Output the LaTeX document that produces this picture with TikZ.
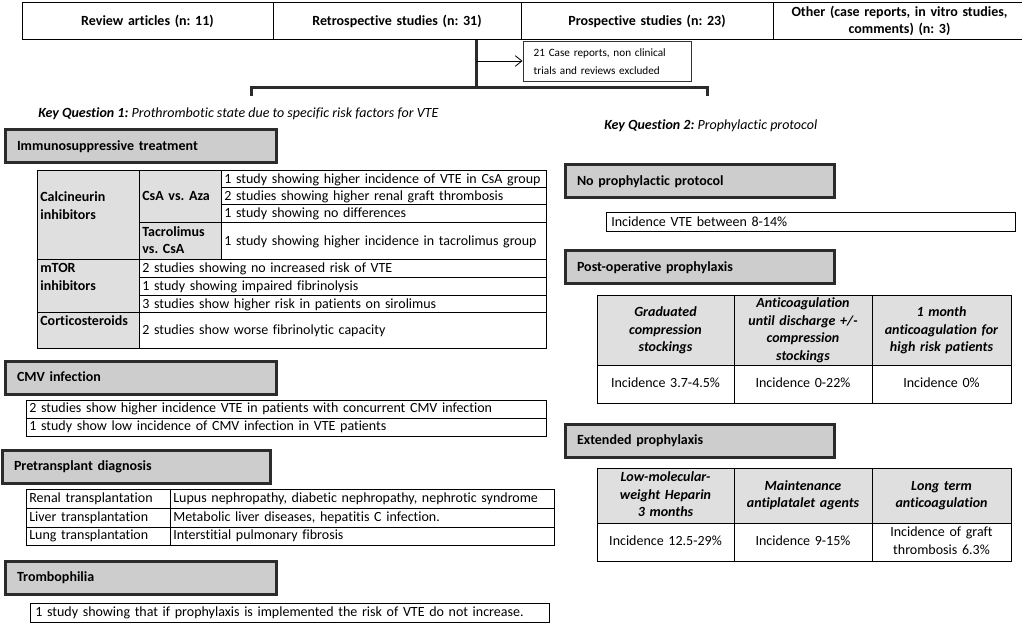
\documentclass[tikz,border=0pt]{standalone}
\usepackage{fontspec}
\setmainfont{Carlito}[Ligatures=NoCommon]
\usepackage{xcolor}
\usepackage{tikz}
\usetikzlibrary{arrows.meta, positioning}
\frenchspacing
\definecolor{boxgray}{HTML}{CDCDCD}
\definecolor{cellgray}{HTML}{DFDFDF}
\definecolor{rulegray}{HTML}{2B2B2B}
\newcommand{\cellstrut}{\rule[-3.2pt]{0pt}{11.8pt}}
% cella di tabella: [padding]{nome}{stile}{x1}{y1}{x2}{y2}{testo}
\newcommand{\tabcell}[8][2.5]{%
  \pgfmathsetmacro{\cellw}{(#6-#4)*0.75-2*#1}%
  \pgfmathsetmacro{\cellh}{(#7-#5)*0.75}%
  \node[#3, inner xsep=#1pt, text width=\cellw pt, minimum height=\cellh pt]
    (#2) at ({(#4+#6)/2},{(#5+#7)/2}) {#8};}
\tikzset{
  >=latex,
  % caselle delle tabelle
  cellbox/.style={draw=black, line width=0.75pt, inner ysep=0pt, align=left,
    font=\fontsize{10.5}{13.2}\selectfont,
    execute at begin node=\cellstrut, execute at end node=\cellstrut},
  cell grey/.style={cellbox, fill=cellgray, font=\fontsize{10.5}{13.2}\selectfont\bfseries},
  cell mid/.style={cellbox, align=center},
  cell head/.style={cell mid, fill=cellgray, font=\fontsize{10.5}{13.2}\selectfont\bfseries\itshape},
  top cell/.style={cell mid, font=\fontsize{10.5}{13.2}\selectfont\bfseries},
  % riquadri grigi dei gruppi
  group box/.style={cellbox, draw=rulegray, line width=2.25pt, fill=boxgray,
    font=\fontsize{10.5}{13.2}\selectfont\bfseries},
  excl box/.style={cellbox, draw=black!80, font=\fontsize{8.4}{13.5}\selectfont},
  question/.style={anchor=west, inner sep=0pt, font=\fontsize{10.5}{13.2}\selectfont\itshape},
  % linee di flusso
  bar/.style={line width=2.25pt, draw=rulegray},
  excl arrow/.style={-{Straight Barb[length=5pt,width=8pt]}, line width=0.6pt}
}
\begin{document}
\begin{tikzpicture}[x=0.75pt, y=-0.75pt]
  \useasboundingbox (0,0) rectangle (1022,624);

  \tabcell{review}{top cell}{22}{3}{273}{40}{Review articles (n: 11)}
  \tabcell{retro}{top cell}{273}{3}{521}{40}{Retrospective studies (n: 31)}
  \tabcell{prosp}{top cell}{521}{3}{773}{40}{Prospective studies (n: 23)}
  \tabcell{other}{top cell}{773}{3}{1026}{40}{Other (case reports, in vitro studies,\\comments) (n: 3)}

  \coordinate (trunk) at (476,40);
  \coordinate (hub) at (476,88);
  \coordinate (branch) at (476,61);
  \coordinate (bar left) at (251,96);
  \coordinate (bar right) at (707,96);
  \draw[bar] (trunk) -- (hub);
  \draw[bar] (bar left) |- (hub) -| (bar right);

  \tabcell[8]{excl}{excl box}{523}{42}{691}{82}{21 Case reports, non clinical\\trials and reviews excluded}
  \draw[excl arrow] (branch) -- (branch -| excl.west);

  \node[question] (kq1) at (38,114) {\textbf{Key Question 1:} Prothrombotic state due to specific risk factors for VTE};
  \node[question] (kq2) at (604,126) {\textbf{Key Question 2:} Prophylactic protocol};

  \tabcell[9]{immuno}{group box}{5}{130}{276}{163}{Immunosuppressive treatment}
  \tabcell{calc}{cell grey}{37}{171}{139}{260}{Calcineurin\\inhibitors\\\mbox{}}
  \tabcell{csa}{cell grey}{139}{171}{221}{223}{CsA vs. Aza}
  \tabcell{tacro}{cell grey}{139}{223}{221}{260}{Tacrolimus\\vs. CsA}
  \tabcell{csa1}{cellbox}{221}{171}{546}{188}{1 study showing higher incidence of VTE in CsA group}
  \tabcell{csa2}{cellbox}{221}{188}{546}{205}{2 studies showing higher renal graft thrombosis}
  \tabcell{csa3}{cellbox}{221}{205}{546}{223}{1 study showing no differences}
  \tabcell{tacro1}{cellbox}{221}{223}{546}{260}{1 study showing higher incidence in tacrolimus group}
  \tabcell{mtor}{cell grey}{37}{260}{139}{313}{mTOR\\inhibitors\\\mbox{}}
  \tabcell{mtor1}{cellbox}{139}{260}{546}{278}{2 studies showing no increased risk of VTE}
  \tabcell{mtor2}{cellbox}{139}{278}{546}{296}{1 study showing impaired fibrinolysis}
  \tabcell{mtor3}{cellbox}{139}{296}{546}{313}{3 studies show higher risk in patients on sirolimus}
  \tabcell{cort}{cell grey}{37}{313}{139}{348}{Corticosteroids\\\mbox{}}
  \tabcell{cort1}{cellbox}{139}{313}{546}{348}{2 studies show worse fibrinolytic capacity}

  \tabcell[9]{cmv}{group box}{5}{361}{276}{394}{CMV infection}
  \tabcell{cmv1}{cellbox}{26}{400}{546}{418}{2 studies show higher incidence VTE in patients with concurrent CMV infection}
  \tabcell{cmv2}{cellbox}{26}{418}{546}{436}{1 study show low incidence of CMV infection in VTE patients}

  \tabcell[9]{pretx}{group box}{2}{450}{270}{483}{Pretransplant diagnosis}
  \tabcell{renal}{cellbox}{26}{489}{170}{508}{Renal transplantation}
  \tabcell{liver}{cellbox}{26}{508}{170}{527}{Liver transplantation}
  \tabcell{lung}{cellbox}{26}{527}{170}{545}{Lung transplantation}
  \tabcell{renal1}{cellbox}{170}{489}{554}{508}{Lupus nephropathy, diabetic nephropathy, nephrotic syndrome}
  \tabcell{liver1}{cellbox}{170}{508}{554}{527}{Metabolic liver diseases, hepatitis C infection.}
  \tabcell{lung1}{cellbox}{170}{527}{554}{545}{Interstitial pulmonary fibrosis}

  \tabcell[9]{tromb}{group box}{5}{561}{276}{594}{Trombophilia}
  \tabcell[4]{tromb1}{cellbox}{30}{603}{549}{622}{1 study showing that if prophylaxis is implemented the risk of VTE do not increase.}

  \tabcell[9]{noproph}{group box}{565}{165}{834}{198}{No prophylactic protocol}
  \tabcell[4]{noproph1}{cellbox}{606}{213}{1015}{232}{Incidence VTE between 8-14\%}

  \tabcell[9]{postop}{group box}{565}{251}{834}{284}{Post-operative prophylaxis}
  \tabcell{gcs}{cell head}{597}{296}{734}{365}{Graduated\\compression\\stockings}
  \tabcell{anticoag}{cell head}{734}{296}{872}{365}{Anticoagulation\\until discharge +/-\\compression\\stockings}
  \tabcell{month}{cell head}{872}{296}{1011}{365}{1 month\\anticoagulation for\\high risk patients}
  \tabcell{gcs1}{cell mid}{597}{365}{734}{403}{Incidence 3.7-4.5\%}
  \tabcell{anticoag1}{cell mid}{734}{365}{872}{403}{Incidence 0-22\%}
  \tabcell{month1}{cell mid}{872}{365}{1011}{403}{Incidence 0\%}

  \tabcell[9]{extended}{group box}{565}{424}{834}{457}{Extended prophylaxis}
  \tabcell{lmwh}{cell head}{597}{468}{734}{523}{Low-molecular-\\weight Heparin\\3 months}
  \tabcell{antiplt}{cell head}{734}{468}{872}{523}{Maintenance\\antiplatalet agents}
  \tabcell{longterm}{cell head}{872}{468}{1011}{523}{Long term\\anticoagulation}
  \tabcell{lmwh1}{cell mid}{597}{523}{734}{561}{Incidence 12.5-29\%}
  \tabcell{antiplt1}{cell mid}{734}{523}{872}{561}{Incidence 9-15\%}
  \tabcell{longterm1}{cell mid}{872}{523}{1011}{561}{Incidence of graft\\thrombosis 6.3\%}
\end{tikzpicture}
\end{document}
